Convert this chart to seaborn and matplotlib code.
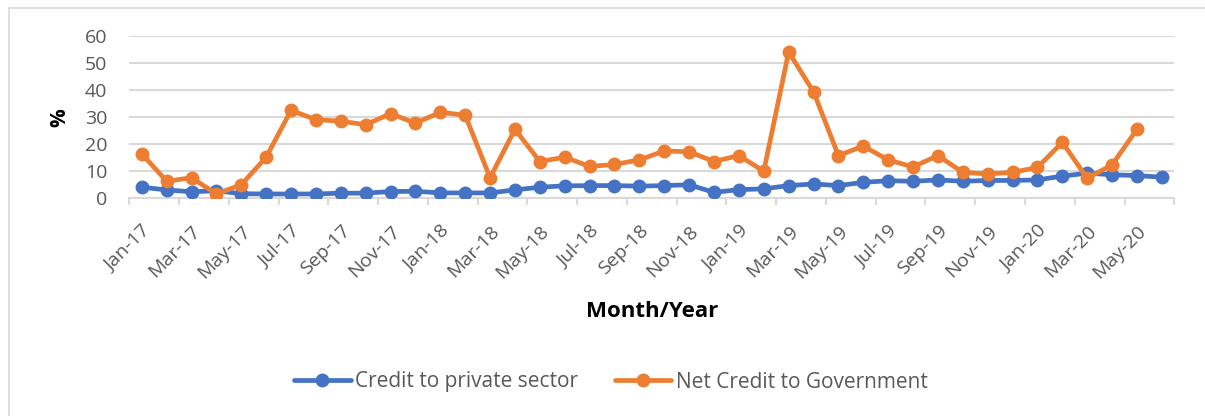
import pandas as pd
import matplotlib.pyplot as plt
import seaborn as sns
from matplotlib.lines import Line2D
from matplotlib.ticker import FixedLocator

# monthly categories, Jan-17 .. Jun-20
months = ['Jan-17', 'Feb-17', 'Mar-17', 'Apr-17', 'May-17', 'Jun-17', 'Jul-17', 'Aug-17',
          'Sep-17', 'Oct-17', 'Nov-17', 'Dec-17', 'Jan-18', 'Feb-18', 'Mar-18', 'Apr-18',
          'May-18', 'Jun-18', 'Jul-18', 'Aug-18', 'Sep-18', 'Oct-18', 'Nov-18', 'Dec-18',
          'Jan-19', 'Feb-19', 'Mar-19', 'Apr-19', 'May-19', 'Jun-19', 'Jul-19', 'Aug-19',
          'Sep-19', 'Oct-19', 'Nov-19', 'Dec-19', 'Jan-20', 'Feb-20', 'Mar-20', 'Apr-20',
          'May-20', 'Jun-20']

private_credit = [4.1, 3.1, 2.4, 2.8, 1.7, 1.6, 1.6, 1.6, 1.9, 1.9,
                  2.5, 2.6, 2.0, 2.0, 2.0, 3.1, 4.1, 4.6, 4.7, 4.7,
                  4.5, 4.7, 5.0, 2.2, 3.2, 3.5, 4.7, 5.3, 4.7, 5.9,
                  6.5, 6.3, 6.8, 6.3, 6.6, 6.6, 6.8, 8.2, 9.3, 8.7,
                  8.4, 7.8]

govt_credit = [16.5, 6.3, 7.6, 1.6, 5.0, 15.2, 32.5, 29.1, 28.5, 27.2,
               31.3, 27.8, 31.8, 30.7, 7.6, 25.5, 13.6, 15.2, 11.8, 12.5,
               14.2, 17.5, 17.2, 13.6, 15.8, 10.0, 54.1, 39.4, 15.8, 19.3,
               14.2, 11.6, 15.8, 9.6, 9.0, 9.6, 11.4, 20.7, 7.4, 12.4,
               25.5]

BLUE = '#4472C4'
ORANGE = '#ED7D31'
GRAY_TXT = '#595959'
GRID = '#D9D9D9'

sns.set_theme(style='white')
plt.rcParams['font.family'] = ['Open Sans', 'DejaVu Sans']

df_priv = pd.DataFrame({'idx': range(len(private_credit)), 'val': private_credit})
df_gov = pd.DataFrame({'idx': range(len(govt_credit)), 'val': govt_credit})

fig = plt.figure(figsize=(12.05, 4.16), dpi=100)
ax = fig.add_axes([129.3 / 1205, 1 - 198.3 / 416, 1045 / 1205, 162.3 / 416])

sns.lineplot(data=df_priv, x='idx', y='val', ax=ax, color=BLUE, marker='o',
             linewidth=3.4, markersize=10, markeredgewidth=0,
             label='Credit to private sector', zorder=3)
sns.lineplot(data=df_gov, x='idx', y='val', ax=ax, color=ORANGE, marker='o',
             linewidth=3.4, markersize=10, markeredgewidth=0,
             label='Net Credit to Government', zorder=4)

ax.set_xlim(-0.5, len(months) - 0.5)
ax.set_ylim(0, 60)
ax.set_yticks(range(0, 61, 10))
ax.yaxis.grid(True, color=GRID, linewidth=1.5)
ax.xaxis.grid(False)
for side in ['top', 'right', 'left']:
    ax.spines[side].set_visible(False)
ax.spines['bottom'].set_color(GRID)
ax.spines['bottom'].set_linewidth(1.5)

# labels every second month, tick marks on category boundaries
label_pos = list(range(0, len(months), 2))
ax.set_xticks(label_pos)
ax.set_xticklabels([months[i] for i in label_pos], rotation=45, ha='right',
                   va='top', rotation_mode='anchor')
ax.xaxis.set_minor_locator(FixedLocator([p - 0.5 for p in range(0, len(months) + 1, 2)]))
ax.tick_params(axis='x', which='major', length=0, pad=17, labelsize=14, labelcolor=GRAY_TXT)
ax.tick_params(axis='x', which='minor', bottom=True, length=5, width=1.5, color=GRID)
ax.tick_params(axis='y', length=0, pad=16, labelsize=14, labelcolor=GRAY_TXT)

ax.set_xlabel('Month/Year', fontsize=16, fontweight='bold', color='black', labelpad=14)
ax.set_ylabel('%', fontsize=15, fontweight='bold', color='black', labelpad=10)

handles, labels = ax.get_legend_handles_labels()
ax.get_legend().remove()
fig.legend(handles, labels, loc='center', bbox_to_anchor=(0.507, 1 - 382 / 416), ncol=2,
           frameon=False, fontsize=15, labelcolor=GRAY_TXT, handlelength=2.7,
           handletextpad=0.2, columnspacing=1.8)

# chart frame (left and top edges visible)
fig.add_artist(Line2D([9 / 1205, 9 / 1205], [0, 1 - 7.5 / 416], color=GRID, linewidth=1.2))
fig.add_artist(Line2D([9 / 1205, 1], [1 - 7.5 / 416, 1 - 7.5 / 416], color=GRID, linewidth=1.2))

plt.savefig('out.png', dpi=100)
plt.close()
